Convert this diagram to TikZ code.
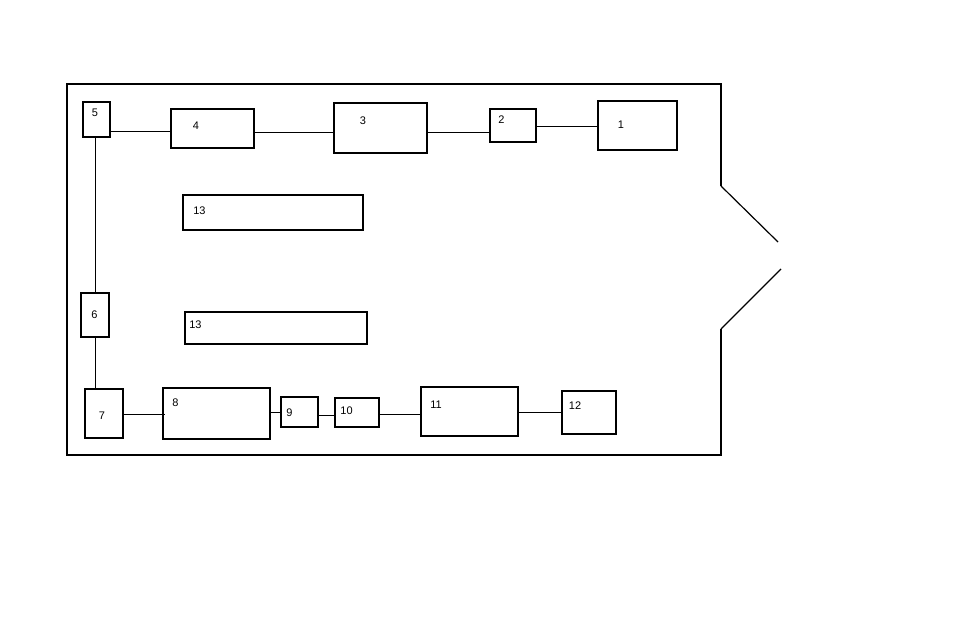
\documentclass[tikz,border=0pt]{standalone}
\usepackage{fontspec}
\setmainfont{Liberation Sans}
\begin{document}
\begin{tikzpicture}[x=1pt,y=-1pt,
  box/.style={draw,line width=2pt,inner sep=0pt,rectangle},
  lbl/.style={inner sep=0pt,font=\fontsize{11}{13}\selectfont},
  wire/.style={line width=1pt},
  frame/.style={line width=2pt},
  diag/.style={line width=1.2pt}]
\useasboundingbox (0,0) rectangle (962,618);
% frame
\draw[frame] (721,186) -- (721,84) -- (67,84) -- (67,455) -- (721,455) -- (721,329);
\draw[diag] (721,186) -- (778,242);
\draw[diag] (781,269) -- (721,329);
% boxes
\node[box,minimum width=27,minimum height=35] (b5) at (96.5,119.5) {};
\node[box,minimum width=83,minimum height=39] (b4) at (212.5,128.5) {};
\node[box,minimum width=93,minimum height=50] (b3) at (380.5,128) {};
\node[box,minimum width=46,minimum height=33] (b2) at (513,125.5) {};
\node[box,minimum width=79,minimum height=49] (b1) at (637.5,125.5) {};
\node[box,minimum width=180,minimum height=35] (b13a) at (273,212.5) {};
\node[box,minimum width=28,minimum height=44] (b6) at (95,315) {};
\node[box,minimum width=182,minimum height=32] (b13b) at (276,328) {};
\node[box,minimum width=38,minimum height=49] (b7) at (104,413.5) {};
\node[box,minimum width=107,minimum height=51] (b8) at (216.5,413.5) {};
\node[box,minimum width=37,minimum height=30] (b9) at (299.5,412) {};
\node[box,minimum width=44,minimum height=29] (b10) at (357,412.5) {};
\node[box,minimum width=97,minimum height=49] (b11) at (469.5,411.5) {};
\node[box,minimum width=54,minimum height=43] (b12) at (589,412.5) {};
% labels
\node[lbl] (t5) at (95,112.5) {5};
\node[lbl] (t4) at (196,126) {4};
\node[lbl] (t3) at (363,121) {3};
\node[lbl] (t2) at (501.5,119.5) {2};
\node[lbl] (t1) at (621,124.5) {1};
\node[lbl] (t13a) at (199.5,211) {13};
\node[lbl] (t6) at (94.5,315) {6};
\node[lbl] (t13b) at (195.5,325) {13};
\node[lbl] (t7) at (102,416) {7};
\node[lbl] (t8) at (175.5,403) {8};
\node[lbl] (t9) at (289.5,412.5) {9};
\node[lbl] (t10) at (346.5,410.5) {10};
\node[lbl] (t11) at (436,405) {11};
\node[lbl] (t12) at (575,406) {12};
% connectors
\draw[wire] (b5.east |- 0,131) -- (b4.west |- 0,131);
\draw[wire] (b4.east |- 0,132) -- (b3.west |- 0,132);
\draw[wire] (b3.east |- 0,132) -- (b2.west |- 0,132);
\draw[wire] (b2.east |- 0,126) -- (b1.west |- 0,126);
\draw[wire] (b5.south -| 95,0) -- (b6.north -| 95,0);
\draw[wire] (b6.south -| 95,0) -- (b7.north -| 95,0);
\draw[wire] (b7.east |- 0,414) -- ([xshift=3pt]b8.west |- 0,414);
\draw[wire] (b8.east |- 0,412) -- (b9.west |- 0,412);
\draw[wire] (b9.east |- 0,415) -- (b10.west |- 0,415);
\draw[wire] (b10.east |- 0,414) -- (b11.west |- 0,414);
\draw[wire] (b11.east |- 0,412) -- (b12.west |- 0,412);
\end{tikzpicture}
\end{document}
